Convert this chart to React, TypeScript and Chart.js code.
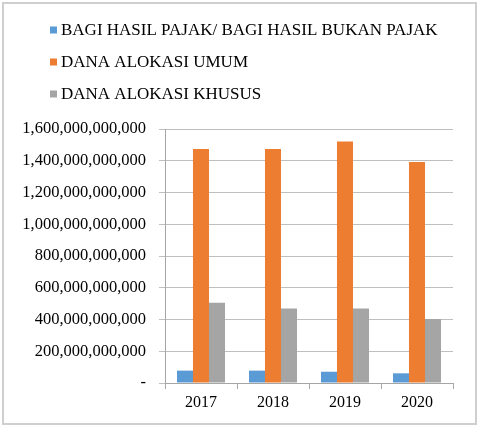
import React, { useEffect, useRef } from "react";
import { Chart, registerables } from "chart.js";

Chart.register(...registerables);

const categories = ["2017", "2018", "2019", "2020"];
const seriesNames = [
  "BAGI HASIL PAJAK/ BAGI HASIL BUKAN PAJAK",
  "DANA ALOKASI UMUM",
  "DANA ALOKASI KHUSUS",
];
const bagiHasil = [78e9, 78e9, 71e9, 61e9];
const danaUmum = [1474e9, 1474e9, 1522e9, 1392e9];
const danaKhusus = [506e9, 470e9, 470e9, 403e9];
const seriesColors = ["#5b9bd5", "#ed7d31", "#a5a5a5"];
const yMax = 1600e9;
const yStep = 200e9;

const FONT = "'Liberation Serif', 'Times New Roman', serif";

const frameAndLegend = {
  id: "frameAndLegend",
  afterDraw(chart: any) {
    const ctx = chart.ctx;
    ctx.save();
    ctx.strokeStyle = "#cfcfcf";
    ctx.lineWidth = 2;
    ctx.strokeRect(3, 3, 473, 421);
    ctx.font = `17px ${FONT}`;
    ctx.textBaseline = "middle";
    ctx.textAlign = "left";
    chart.data.datasets.forEach((ds: any, i: number) => {
      const y = 30 + i * 32;
      ctx.fillStyle = ds.backgroundColor;
      ctx.fillRect(50, y - 3.5, 7, 7);
      ctx.fillStyle = "#000";
      ctx.fillText(ds.label, 61, y + 0.5);
    });
    ctx.restore();
  },
};

export default function App() {
  const ref = useRef<HTMLCanvasElement | null>(null);
  useEffect(() => {
    if (!ref.current) return;
    const data = [bagiHasil, danaUmum, danaKhusus];
    const chart = new Chart(ref.current, {
      type: "bar",
      data: {
        labels: categories,
        datasets: seriesNames.map((name, i) => ({
          label: name,
          data: data[i],
          backgroundColor: seriesColors[i],
          borderWidth: 0,
          barPercentage: 1,
          categoryPercentage: 0.667,
        })),
      },
      options: {
        responsive: false,
        animation: false,
        devicePixelRatio: 1,
        layout: { padding: { left: 0, right: 27, top: 129, bottom: 17 } },
        plugins: {
          legend: { display: false },
          tooltip: { enabled: false },
        },
        scales: {
          x: {
            grid: {
              drawOnChartArea: false,
              drawTicks: true,
              tickLength: 6,
              color: "#a6a6a6",
            },
            border: { color: "#a6a6a6" },
            ticks: {
              color: "#000",
              padding: 4,
              font: { family: FONT, size: 16 },
            },
            afterFit: (s: any) => {
              s.height = 29;
            },
          },
          y: {
            min: 0,
            max: yMax,
            grid: { color: "#bfbfbf", tickLength: 6 },
            border: { color: "#a6a6a6" },
            ticks: {
              stepSize: yStep,
              autoSkip: false,
              color: "#000",
              padding: 13,
              font: { family: FONT, size: 16.5 },
              callback: (v: any) =>
                Number(v) === 0 ? "-" : Number(v).toLocaleString("en-US"),
            },
            afterFit: (s: any) => {
              s.width = 165;
            },
          },
        },
      },
      plugins: [frameAndLegend],
    });
    return () => chart.destroy();
  }, []);
  return (
    <div style={{ position: "fixed", left: 0, top: 0, width: 480, height: 429, background: "#fff" }}>
      <canvas ref={ref} width={480} height={429} />
    </div>
  );
}
